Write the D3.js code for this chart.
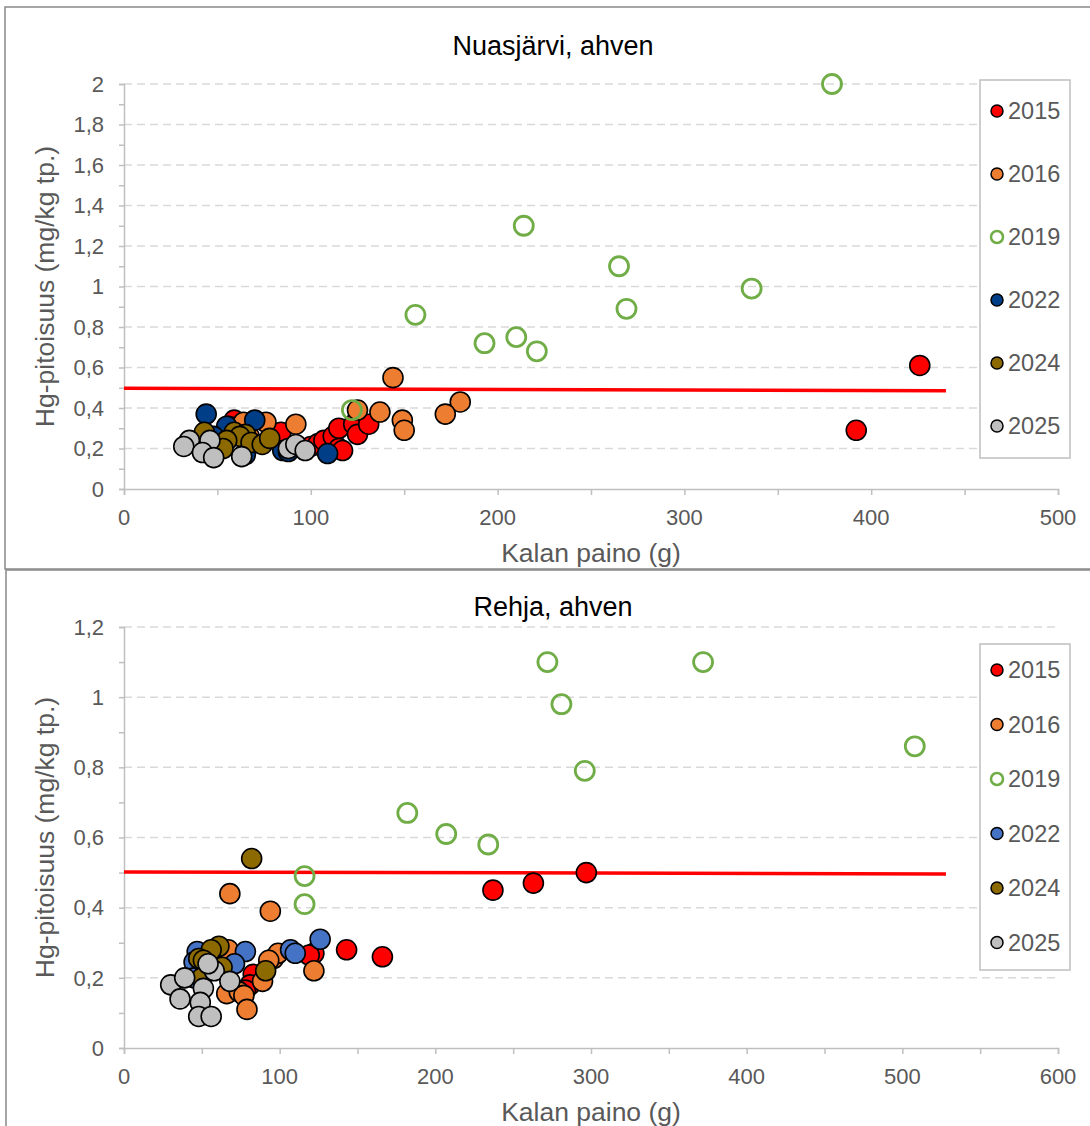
<!DOCTYPE html>
<html>
<head>
<meta charset="utf-8">
<script src="https://cdn.jsdelivr.net/npm/d3@7"></script>
<style>
  body { margin: 0; background: #fff; }
  svg text { font-family: "Liberation Sans", Arial, sans-serif; }
</style>
</head>
<body>
<div id="chart"></div>
<script>
// series labels shared by both charts
const years = ['2015', '2016', '2019', '2022', '2024', '2025'];

// Nuasjärvi, [paino g, Hg mg/kg]
const nuas2015 = [[426,0.61],[392,0.29],[59,0.34],[56,0.31],[84,0.28],[100,0.21],[104,0.225],[107,0.24],[112,0.26],[115,0.30],[115,0.20],[117,0.19],[123,0.32],[125,0.27],[131,0.32]];
const nuas2016 = [[144,0.55],[180,0.43],[172,0.37],[125,0.39],[137,0.38],[149,0.34],[150,0.29],[76,0.33],[92,0.32],[64,0.33],[67,0.26]];
const nuas2019 = [[379,2.0],[214,1.3],[265,1.1],[336,0.99],[269,0.89],[156,0.86],[193,0.72],[210,0.75],[221,0.68],[122,0.39]];
const nuas2022 = [[44,0.37],[70,0.34],[55,0.31],[65,0.17],[85,0.19],[88,0.185],[109,0.175],[48,0.26]];
const nuas2024 = [[43,0.28],[59,0.28],[65,0.27],[62,0.26],[55,0.24],[68,0.23],[74,0.22],[78,0.25],[53,0.20]];
const nuas2025 = [[35,0.24],[32,0.21],[46,0.24],[42,0.18],[48,0.155],[63,0.16],[88,0.20],[92,0.22],[97,0.19]];
const nuasTrend = [[0,0.497],[440,0.485]];

// Rehja
const rehja2015 = [[297,0.50],[263,0.47],[237,0.45],[143,0.28],[166,0.26],[122,0.27],[119,0.265],[83,0.21],[81,0.18],[78,0.165]];
const rehja2016 = [[68,0.44],[94,0.39],[122,0.22],[96,0.255],[99,0.27],[93,0.25],[89,0.19],[67,0.28],[66,0.155],[74,0.16],[77,0.15],[79,0.11]];
const rehja2019 = [[272,1.1],[372,1.1],[281,0.98],[508,0.86],[296,0.79],[182,0.67],[207,0.61],[234,0.58],[116,0.49],[116,0.41]];
const rehja2022 = [[126,0.31],[107,0.28],[110,0.27],[78,0.275],[71,0.24],[47,0.275],[45,0.245],[45,0.2]];
const rehja2024 = [[82,0.54],[91,0.22],[61,0.29],[56,0.28],[48,0.255],[51,0.25],[63,0.23],[50,0.2]];
const rehja2025 = [[30,0.18],[36,0.14],[39,0.20],[51,0.17],[49,0.13],[48,0.09],[56,0.09],[58,0.22],[68,0.19],[54,0.24]];
const rehjaTrend = [[0,0.502],[528,0.496]];

const W = 1090, H = 1126;
const svg = d3.select('#chart').append('svg')
    .attr('width', W)
    .attr('height', H);

const fmt = d => d3.format('.1f')(d).replace('.', ',').replace(/,0$/, '');

function drawChart(cfg) {
    const g = svg.append('g');

    // outer frame
    g.append('rect')
        .attr('x', cfg.frame[0]).attr('y', cfg.frame[1])
        .attr('width', cfg.frame[2]).attr('height', cfg.frame[3])
        .attr('fill', '#fff').attr('stroke', '#898989').attr('stroke-width', 1.5);

    const x = d3.scaleLinear().domain([0, cfg.xMax]).range([124, 1058]);
    const y = d3.scaleLinear().domain([0, cfg.yMax]).range([cfg.bottom, cfg.top]);

    // grid
    g.append('g').selectAll('line')
        .data(d3.range(0.2, cfg.yMax + 0.001, 0.2))
        .join('line')
        .attr('x1', x(0)).attr('x2', x(cfg.xMax))
        .attr('y1', d => y(d)).attr('y2', d => y(d))
        .attr('stroke', '#d9d9d9').attr('stroke-width', 1.5)
        .attr('stroke-dasharray', '8,5');

    // y axis: minor ticks every 0.1, labels every 0.2
    const yAxis = g.append('g').attr('transform', `translate(${x(0)},0)`)
        .call(d3.axisLeft(y).tickValues(d3.range(0, cfg.yMax + 0.001, 0.1)).tickSize(5).tickFormat(''));
    yAxis.select('.domain').attr('stroke', '#bfbfbf').attr('stroke-width', 1.5);
    yAxis.selectAll('.tick line').attr('stroke', '#bfbfbf').attr('stroke-width', 1.5);
    g.append('g').selectAll('text')
        .data(d3.range(0, cfg.yMax + 0.001, 0.2))
        .join('text')
        .attr('x', 104).attr('y', d => y(d))
        .attr('dy', '0.35em')
        .attr('text-anchor', 'end')
        .attr('font-size', 22).attr('fill', '#595959')
        .text(fmt);

    // x axis: ticks every 50, labels every 100
    const xAxis = g.append('g').attr('transform', `translate(0,${cfg.bottom})`)
        .call(d3.axisBottom(x).tickValues(d3.range(0, cfg.xMax + 1, 50)).tickSize(6).tickFormat(''));
    xAxis.select('.domain').attr('stroke', '#bfbfbf').attr('stroke-width', 1.5);
    xAxis.selectAll('.tick line').attr('stroke', '#bfbfbf').attr('stroke-width', 1.5);
    g.append('g').selectAll('text')
        .data(d3.range(0, cfg.xMax + 1, 100))
        .join('text')
        .attr('x', d => x(d)).attr('y', cfg.bottom + 36)
        .attr('text-anchor', 'middle')
        .attr('font-size', 22).attr('fill', '#595959')
        .text(d => d);

    // titles
    g.append('text')
        .attr('x', 553).attr('y', cfg.titleY)
        .attr('text-anchor', 'middle')
        .attr('font-size', 27).attr('fill', '#000')
        .text(cfg.title);
    g.append('text')
        .attr('x', 591).attr('y', cfg.bottom + 73)
        .attr('text-anchor', 'middle')
        .attr('font-size', 26.5).attr('fill', '#595959')
        .text('Kalan paino (g)');
    g.append('text')
        .attr('transform', `translate(54,${(cfg.top + cfg.bottom) / 2}) rotate(-90)`)
        .attr('text-anchor', 'middle')
        .attr('font-size', 26.5).attr('fill', '#595959')
        .text('Hg-pitoisuus (mg/kg tp.)');

    // trend line
    g.append('path')
        .datum(cfg.trend)
        .attr('d', d3.line().x(d => x(d[0])).y(d => y(d[1])))
        .attr('stroke', '#ff0000').attr('stroke-width', 3.5).attr('fill', 'none');

    // points
    cfg.series.forEach((s, i) => {
        const open = years[i] === '2019';
        g.append('g').selectAll('circle')
            .data(s)
            .join('circle')
            .attr('cx', d => x(d[0])).attr('cy', d => y(d[1]))
            .attr('r', open ? 9.5 : 10)
            .attr('fill', open ? 'none' : cfg.colors[i])
            .attr('stroke', open ? cfg.colors[i] : '#000')
            .attr('stroke-width', open ? 2.8 : 1.6);
    });

    // legend
    const lg = g.append('g');
    lg.append('rect')
        .attr('x', 980).attr('y', cfg.legend[0])
        .attr('width', 90).attr('height', cfg.legend[1])
        .attr('fill', '#fff').attr('stroke', '#bfbfbf').attr('stroke-width', 1.5);
    const items = lg.selectAll('g.item')
        .data(years)
        .join('g')
        .attr('class', 'item')
        .attr('transform', (d, i) => `translate(0,${cfg.legend[2] + i * cfg.legend[3]})`);
    items.append('circle')
        .attr('cx', 997).attr('cy', 0).attr('r', 6)
        .attr('fill', (d, i) => d === '2019' ? '#fff' : cfg.colors[i])
        .attr('stroke', (d, i) => d === '2019' ? cfg.colors[i] : '#000')
        .attr('stroke-width', (d) => d === '2019' ? 2.5 : 1.5);
    items.append('text')
        .attr('x', 1008).attr('y', 0).attr('dy', '0.35em')
        .attr('font-size', 23.5).attr('fill', '#595959')
        .text(d => d);
}

drawChart({
    title: 'Nuasjärvi, ahven',
    titleY: 55,
    frame: [5, 7, 1100, 562],
    top: 84, bottom: 489,
    xMax: 500, yMax: 2,
    trend: nuasTrend,
    series: [nuas2015, nuas2016, nuas2019, nuas2022, nuas2024, nuas2025],
    colors: ['#ff0000', '#ed7d31', '#70ad47', '#003f87', '#8c6a00', '#bfbfbf'],
    legend: [80, 378, 111, 63]
});

drawChart({
    title: 'Rehja, ahven',
    titleY: 616,
    frame: [6, 570, 1100, 570],
    top: 627, bottom: 1048,
    xMax: 600, yMax: 1.2,
    trend: rehjaTrend,
    series: [rehja2015, rehja2016, rehja2019, rehja2022, rehja2024, rehja2025],
    colors: ['#ff0000', '#ed7d31', '#70ad47', '#4472c4', '#8c6a00', '#bfbfbf'],
    legend: [644, 326, 670, 54.5]
});
</script>
</body>
</html>
